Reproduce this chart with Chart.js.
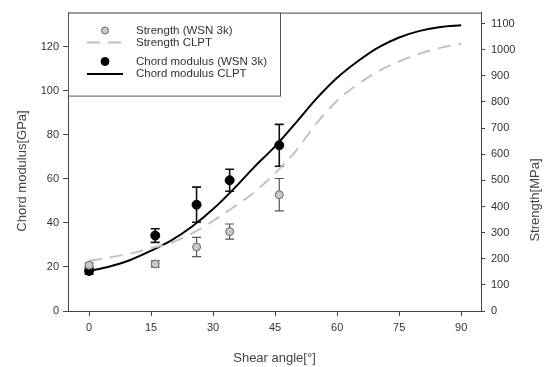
<!DOCTYPE html>
<html>
<head>
<meta charset="utf-8">
<script src="https://cdn.jsdelivr.net/npm/chart.js@4.4.1/dist/chart.umd.min.js"></script>
<style>
  html, body { margin: 0; padding: 0; background: #fff; }
  #wrap { width: 548px; height: 367px; }
</style>
</head>
<body>
<div id="wrap"><canvas id="chart" width="548" height="367"></canvas></div>
<script>
'use strict';

// measured points (shear angle in degrees)
const angles = [0, 16, 26, 34, 46];
const chordWsn = [18.2, 34.3, 48.3, 59.4, 75.3];
const chordErr = [1.5, 3.1, 8, 5, 9.5];
const strengthWsn = [175, 180, 245, 304, 445];
const strengthErr = [8, 12, 37, 29, 62];

// CLPT prediction, read every 5 degrees
const clptAngles = [0, 5, 10, 15, 20, 25, 30, 35, 40, 45, 50, 55, 60, 65, 70, 75, 80, 85, 90];
const chordClpt = [18.2, 20.2, 23.2, 27.4, 32.2, 38.5, 46.3, 55.5, 65.5, 74.8, 85.5, 96.5, 106, 113.5, 119.8, 124.3, 127.3, 129.1, 129.9];
const strengthClpt = [192, 205, 220, 240, 262, 298, 345, 398, 455, 528, 612, 718, 805, 868, 918, 955, 985, 1007, 1022];

const xTicks = [0, 15, 30, 45, 60, 75, 90];
const gpaTicks = [0, 20, 40, 60, 80, 100, 120];
const mpaTicks = [0, 100, 200, 300, 400, 500, 600, 700, 800, 900, 1000, 1100];

const FONT = '"Liberation Sans", Arial, sans-serif';
const AXIS = '#444';
const TEXT = '#333';

function pts(xs, ys) {
  return xs.map((x, i) => ({ x: x, y: ys[i] }));
}

const errorBars = {
  id: 'errorBars',
  beforeDatasetDraw(chart, args) {
    const ds = chart.data.datasets[args.index];
    if (!ds.errors) return;
    const ctx = chart.ctx;
    const xs = chart.scales.x;
    const ys = chart.scales[ds.yAxisID];
    ctx.save();
    ctx.strokeStyle = ds.errorColor;
    ctx.lineWidth = ds.errorWidth;
    ds.data.forEach((p, i) => {
      const px = xs.getPixelForValue(p.x);
      const top = ys.getPixelForValue(p.y + ds.errors[i]);
      const bot = ys.getPixelForValue(p.y - ds.errors[i]);
      ctx.beginPath();
      ctx.moveTo(px, top); ctx.lineTo(px, bot);
      ctx.moveTo(px - 4.5, top); ctx.lineTo(px + 4.5, top);
      ctx.moveTo(px - 4.5, bot); ctx.lineTo(px + 4.5, bot);
      ctx.stroke();
    });
    ctx.restore();
  }
};

const frameAndLegend = {
  id: 'frameAndLegend',
  afterDraw(chart) {
    const ctx = chart.ctx;
    const a = chart.chartArea;
    ctx.save();
    // top frame line
    ctx.strokeStyle = AXIS;
    ctx.lineWidth = 1;
    ctx.beginPath();
    ctx.moveTo(a.left, a.top + 0.5);
    ctx.lineTo(a.right, a.top + 0.5);
    ctx.stroke();

    // legend box in upper left corner
    const bx = a.left, by = a.top, bw = 212, bh = 83;
    ctx.fillStyle = '#fff';
    ctx.fillRect(bx, by, bw, bh);
    ctx.strokeStyle = '#555';
    ctx.strokeRect(bx + 0.5, by + 0.5, bw, bh);

    const rows = [30.5, 42.5, 61.5, 74];
    const symX = bx + 37;
    ctx.font = '11.5px ' + FONT;
    ctx.textBaseline = 'middle';
    chart.data.datasets.forEach((ds, i) => {
      const y = rows[i];
      if (ds.showLine) {
        ctx.strokeStyle = ds.borderColor;
        ctx.lineWidth = ds.borderWidth;
        ctx.setLineDash(ds.borderDash || []);
        ctx.beginPath();
        ctx.moveTo(symX - 18, y);
        ctx.lineTo(symX + 18, y);
        ctx.stroke();
        ctx.setLineDash([]);
      } else {
        ctx.fillStyle = ds.backgroundColor;
        ctx.strokeStyle = ds.borderColor;
        ctx.lineWidth = 1;
        ctx.beginPath();
        ctx.arc(symX, y, ds.pointRadius - 0.5, 0, Math.PI * 2);
        ctx.fill();
        ctx.stroke();
      }
      ctx.fillStyle = TEXT;
      ctx.fillText(ds.label, bx + 68, y);
    });

    // axis titles
    ctx.fillStyle = '#444';
    ctx.font = '13px ' + FONT;
    ctx.textAlign = 'center';
    ctx.fillText('Shear angle[°]', (a.left + a.right) / 2, 358);
    ctx.translate(22, 171);
    ctx.rotate(-Math.PI / 2);
    ctx.fillText('Chord modulus[GPa]', 0, 0);
    ctx.rotate(Math.PI / 2);
    ctx.translate(535 - 22, 200 - 171);
    ctx.rotate(-Math.PI / 2);
    ctx.fillText('Strength[MPa]', 0, 0);
    ctx.restore();
  }
};

const axisStyle = {
  grid: { drawOnChartArea: false, drawTicks: true, tickLength: 5, color: AXIS },
  border: { color: AXIS, width: 1 }
};

const tickFont = { color: TEXT, font: { family: FONT, size: 11 }, callback: v => String(v) };

new Chart(document.getElementById('chart'), {
  type: 'scatter',
  data: {
    datasets: [
      {
        label: 'Strength (WSN 3k)',
        data: pts(angles, strengthWsn),
        yAxisID: 'yR',
        pointRadius: 4,
        backgroundColor: '#c8c8c8',
        borderColor: '#666',
        borderWidth: 1,
        errors: strengthErr,
        errorColor: '#555',
        errorWidth: 1.2
      },
      {
        label: 'Strength CLPT',
        data: pts(clptAngles, strengthClpt),
        yAxisID: 'yR',
        showLine: true,
        pointRadius: 0,
        borderColor: '#c2c2c2',
        borderWidth: 2,
        borderDash: [13, 8],
        cubicInterpolationMode: 'monotone'
      },
      {
        label: 'Chord modulus (WSN 3k)',
        data: pts(angles, chordWsn),
        yAxisID: 'yL',
        pointRadius: 4.5,
        backgroundColor: '#000',
        borderColor: '#000',
        borderWidth: 1,
        errors: chordErr,
        errorColor: '#111',
        errorWidth: 1.6
      },
      {
        label: 'Chord modulus CLPT',
        data: pts(clptAngles, chordClpt),
        yAxisID: 'yL',
        showLine: true,
        pointRadius: 0,
        borderColor: '#000',
        borderWidth: 2,
        cubicInterpolationMode: 'monotone'
      }
    ]
  },
  options: {
    responsive: false,
    animation: false,
    events: [],
    layout: { padding: { top: 7, left: 0, right: 0, bottom: 0 } },
    plugins: { legend: { display: false }, tooltip: { enabled: false } },
    scales: {
      x: {
        type: 'linear',
        min: -5.1,
        max: 94.8,
        ...axisStyle,
        afterBuildTicks: s => { s.ticks = xTicks.map(v => ({ value: v })); },
        afterFit: s => { s.height = 56; },
        ticks: { ...tickFont, padding: 5, maxRotation: 0 }
      },
      yL: {
        type: 'linear',
        position: 'left',
        min: 0,
        max: 135.6,
        ...axisStyle,
        afterBuildTicks: s => { s.ticks = gpaTicks.map(v => ({ value: v })); },
        afterFit: s => { s.width = 68; },
        ticks: { ...tickFont, padding: 4 }
      },
      yR: {
        type: 'linear',
        position: 'right',
        min: 0,
        max: 1142,
        ...axisStyle,
        grid: { drawOnChartArea: false, drawTicks: true, tickLength: 4, color: AXIS },
        afterBuildTicks: s => { s.ticks = mpaTicks.map(v => ({ value: v })); },
        afterFit: s => { s.width = 67; },
        ticks: { ...tickFont, padding: 6 }
      }
    }
  },
  plugins: [errorBars, frameAndLegend]
});
</script>
</body>
</html>
